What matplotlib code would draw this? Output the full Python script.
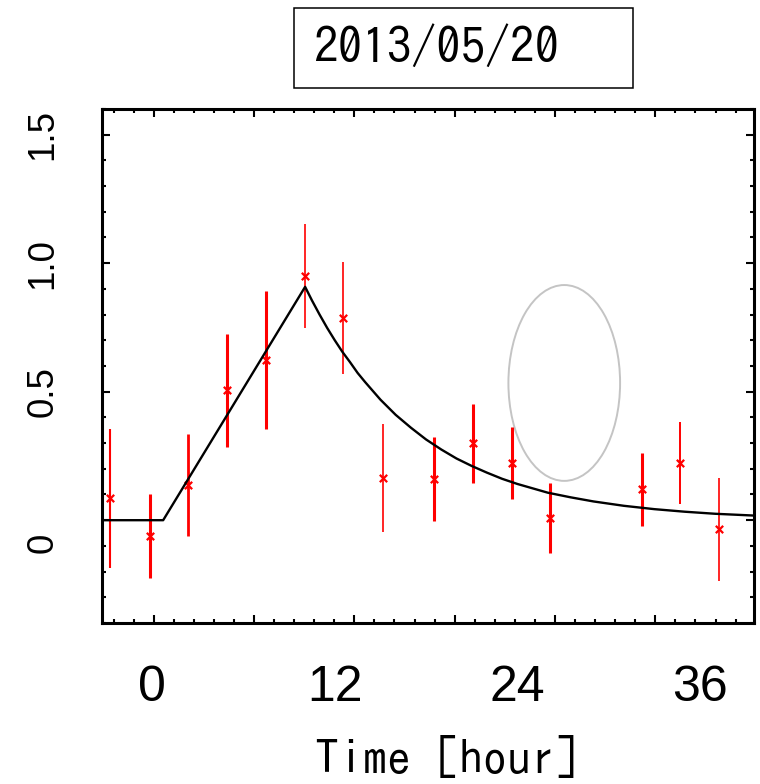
import numpy as np
import matplotlib
matplotlib.use('Agg')
from matplotlib import pyplot as plt
from matplotlib.patches import Ellipse, Rectangle

# observed points, hours from start
t_obs = [-2.78, -0.17, 2.35, 4.90, 7.46, 10.03, 12.56, 15.14, 18.53, 21.06, 23.63, 26.16, 32.16, 34.71, 37.23]
y_obs = [0.085, -0.062, 0.136, 0.506, 0.623, 0.950, 0.788, 0.165, 0.160, 0.299, 0.223, 0.007, 0.120, 0.223, -0.036]
y_err = [0.27, 0.164, 0.199, 0.22, 0.267, 0.203, 0.218, 0.21, 0.162, 0.153, 0.14, 0.136, 0.142, 0.16, 0.20]

# model curve
t_fit = [-3.28, 0.72, 10.05, 10.5, 11, 11.5, 12, 12.5, 13, 13.5, 14, 15, 16, 17, 18, 19, 20,
         21, 22, 23, 24, 25, 26, 27.5, 29, 31, 33, 35, 37, 39.57]
y_fit = [0, 0, 0.908, 0.855, 0.80, 0.748, 0.70, 0.655, 0.615, 0.573, 0.537, 0.469, 0.41, 0.36, 0.314, 0.275, 0.24,
         0.211, 0.185, 0.161, 0.141, 0.124, 0.107, 0.089, 0.073, 0.056, 0.043, 0.033, 0.025, 0.018]

xtick_vals = [0, 12, 24, 36]
xtick_text = ['0', '12', '24', '36']
# the y labels sit a little off their ticks in the original
ytick_vals = [-0.09, 0.5, 1.0, 1.5]
ytick_text = ['0', '0.5', '1.0', '1.5']

title = '2013/05/20'
xlabel = 'Time [hour]'

# bar widths differ in the original
bar_lw = [1.5, 2.2, 2.0, 2.2, 2.2, 1.2, 1.2, 1.2, 2.2, 2.2, 2.2, 2.2, 2.2, 1.4, 1.2]

gothic = ['IPAGothic', 'Noto Sans CJK JP', 'DejaVu Sans']
plt.rcParams['font.family'] = ['Liberation Sans', 'DejaVu Sans']

fig = plt.figure(figsize=(7.6, 7.84), dpi=100)
ax = fig.add_axes([102.3 / 760, 1 - 623 / 784, 652 / 760, 514 / 784])

y_obs_a = np.array(y_obs)
y_err_a = np.array(y_err)
ax.vlines(t_obs, y_obs_a - y_err_a, y_obs_a + y_err_a, colors='red', linewidths=bar_lw, zorder=2)
ax.scatter(t_obs, y_obs, marker='x', c='red', s=28, linewidths=1.6, zorder=3)
ax.plot(t_fit, y_fit, color='black', lw=1.7, zorder=4)

ax.add_patch(Ellipse((27.08, 0.534), 7.34, 0.762, fill=False, ec='#c4c4c4', lw=1.4, zorder=1))

ax.set_xlim(-3.28, 39.57)
ax.set_ylim(-0.4, 1.6)

# frame tick marks (they do not line up with the labels)
ax.set_xticks(np.arange(0.1, 39.5, 6.593))
ax.set_xticks(np.arange(0.1 - 2 * 1.3186, 39.5, 1.3186), minor=True)
ax.set_yticks(np.arange(0.0, 1.61, 0.5))
ax.set_yticks(np.arange(-0.4, 1.61, 0.1), minor=True)
ax.tick_params(which='both', direction='in', top=True, right=True,
               labelbottom=False, labelleft=False, width=1.5)
ax.tick_params(which='major', length=6)
ax.tick_params(which='minor', length=3)
for s in ax.spines.values():
    s.set_linewidth(2.2)

secx = ax.secondary_xaxis('bottom')
secx.set_xticks(xtick_vals, labels=xtick_text)
secx.tick_params(length=0, pad=30, labelsize=36)
secx.spines['bottom'].set_visible(False)

secy = ax.secondary_yaxis('left')
secy.set_yticks(ytick_vals, labels=ytick_text)
secy.tick_params(length=0, pad=30, labelsize=26.5)
for lab in secy.get_yticklabels():
    lab.set_rotation(90)
    lab.set_va('center')
secy.spines['left'].set_visible(False)

fig.patches.append(Rectangle((294 / 760, 1 - 87.5 / 784), 339 / 760, 79.5 / 784,
                             transform=fig.transFigure, fill=False, ec='black', lw=1.1))
fig.text(313 / 760, 1 - 47 / 784, title, ha='left', va='center', fontsize=35.5, family=gothic)
fig.text(315 / 760, 1 - 757 / 784, xlabel, ha='left', va='center', fontsize=34.5, family=gothic)

fig.savefig('out.png', dpi=100)
